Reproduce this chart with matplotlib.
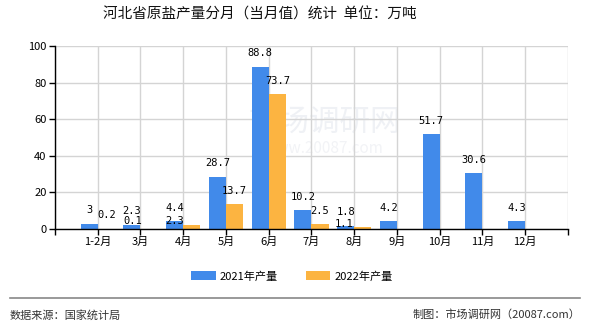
import matplotlib.pyplot as plt
import numpy as np

plt.rcParams['font.family'] = ['Noto Sans CJK SC', 'DejaVu Sans']

months = ['1-2月', '3月', '4月', '5月', '6月', '7月', '8月', '9月', '10月', '11月', '12月']
prod_2021 = [3, 2.3, 4.4, 28.7, 88.8, 10.2, 1.8, 4.2, 51.7, 30.6, 4.3]
prod_2022 = [0.2, 0.1, 2.3, 13.7, 73.7, 2.5, 1.1]

blue = '#418aea'
orange = '#fcb441'
bar_w = 0.4

fig = plt.figure(figsize=(5.9, 3.3), dpi=100)
ax = fig.add_axes([0.0932, 0.306, 0.8695, 0.5545])

x21 = np.arange(len(prod_2021))
x22 = np.arange(len(prod_2022))
ax.bar(x21 - bar_w / 2, prod_2021, width=bar_w, color=blue, label='2021年产量', zorder=3)
ax.bar(x22 + bar_w / 2, prod_2022, width=bar_w, color=orange, label='2022年产量', zorder=3)

# value labels; a few small ones get pushed aside (offsets in points)
nudge22 = {1: (-12, -4), 2: (-12, -6.5), 6: (-13.5, -7.5)}
for i, v in enumerate(prod_2021):
    ax.annotate(f'{v:g}', (i - bar_w / 2, v), xytext=(0, 6), textcoords='offset points',
                ha='center', va='bottom', fontsize=7.5, family='DejaVu Sans Mono', zorder=5)
for i, v in enumerate(prod_2022):
    dx, dy = nudge22.get(i, (0, 0))
    ax.annotate(f'{v:g}', (i + bar_w / 2, v), xytext=(dx, 6 + dy), textcoords='offset points',
                ha='center', va='bottom', fontsize=7.5, family='DejaVu Sans Mono', zorder=5)

ax.set_xlim(-1, 11)
ax.set_ylim(0, 100)
ax.set_xticks(np.arange(-1, 12))
ax.set_xticklabels([''] + months + [''], fontsize=8)
ax.set_yticks(np.arange(0, 101, 20))
ax.tick_params(axis='y', labelsize=8, length=4, width=1, pad=2)
ax.tick_params(axis='x', length=4, width=1, pad=2)
ax.grid(True, color='#d4d4d4', linewidth=1, zorder=0)
for s in ['top', 'right']:
    ax.spines[s].set_visible(False)
for s in ['left', 'bottom']:
    ax.spines[s].set_color('black')
    ax.spines[s].set_linewidth(1)
    ax.spines[s].set_zorder(4)

# faint site watermark
ax.text(5.3, 58, '市场调研网', fontsize=22, color='#eff1f5', ha='center', va='center', zorder=1)
ax.text(5.3, 44, 'www.20087.com', fontsize=11, color='#f2f3f6', ha='center', va='center', zorder=1)

fig.text(0.44, 0.955, '河北省原盐产量分月（当月值）统计  单位：万吨', fontsize=10.5,
         fontweight='medium', ha='center', va='center', color='#111111')

fig.legend(loc='center', bbox_to_anchor=(0.495, 0.163), ncol=2, frameon=False,
           fontsize=8, handlelength=2.2, handleheight=0.9, columnspacing=2.5, handletextpad=0.4)

fig.add_artist(plt.Line2D([10 / 590, 580 / 590], [1 - 298 / 330] * 2, color='#888888', linewidth=1.2))
fig.text(10 / 590, 1 - 315 / 330, '数据来源：国家统计局', fontsize=8, color='#333333', va='center', ha='left')
fig.text(580 / 590, 1 - 315 / 330, '制图：市场调研网（20087.com）', fontsize=8, color='#333333', va='center', ha='right')

fig.savefig('out.png', dpi=100)
